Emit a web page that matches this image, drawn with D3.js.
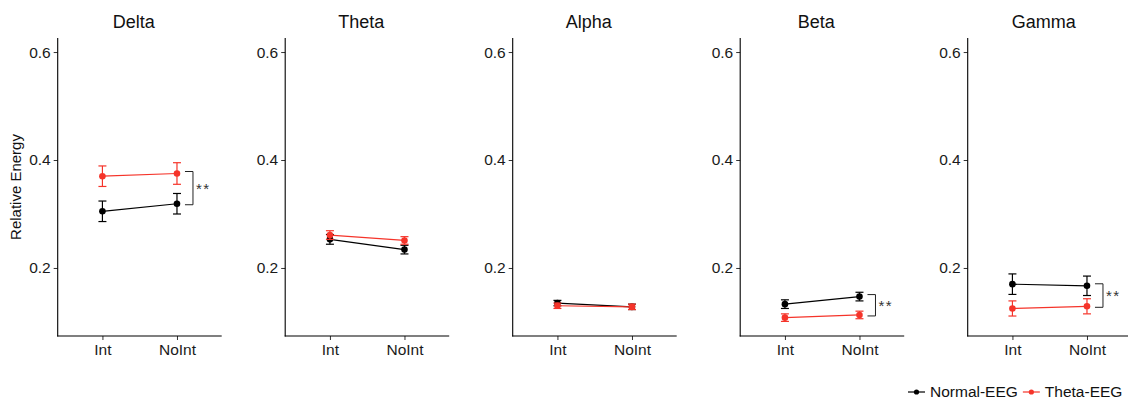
<!DOCTYPE html>
<html>
<head>
<meta charset="utf-8">
<script src="https://cdn.jsdelivr.net/npm/d3@7"></script>
<style>
  html, body { margin: 0; padding: 0; background: #fff; }
  svg { display: block; font-family: "Liberation Sans", Arial, Helvetica, sans-serif; }
</style>
</head>
<body>
<svg id="chart" width="1128" height="403"></svg>
<script>
// EEG frequency bands, one panel each
const bands = ["Delta", "Theta", "Alpha", "Beta", "Gamma"];
const conditions = ["Int", "NoInt"];
const groups = ["Normal-EEG", "Theta-EEG"];

// Mean relative energy per band, [Int, NoInt]
const normalMean = [[0.305, 0.319], [0.253, 0.234], [0.135, 0.128], [0.133, 0.147], [0.170, 0.167]];
const normalSE   = [[0.019, 0.019], [0.009, 0.008], [0.005, 0.005], [0.008, 0.008], [0.019, 0.018]];
const thetaMean  = [[0.370, 0.375], [0.261, 0.251], [0.130, 0.128], [0.108, 0.113], [0.125, 0.129]];
const thetaSE    = [[0.019, 0.020], [0.008, 0.007], [0.005, 0.005], [0.007, 0.007], [0.014, 0.014]];

// Between-group significance marker at NoInt
const significance = ["**", "", "", "**", "**"];

const yTicks = [0.2, 0.4, 0.6];
const yDomain = [0.074, 0.626];

const colors = { "Normal-EEG": "#000000", "Theta-EEG": "#F5342A" };
const series = [
  { group: "Normal-EEG", mean: normalMean, se: normalSE },
  { group: "Theta-EEG",  mean: thetaMean,  se: thetaSE }
];

const svg = d3.select("#chart");
const plotTop = 38, plotBottom = 336;
const panelLeft0 = 57.7, panelStep = 227.5, panelW = 164;

const y = d3.scaleLinear().domain(yDomain).range([plotBottom, plotTop]);

bands.forEach((band, i) => {
  const x0 = panelLeft0 + i * panelStep;
  const x = d3.scalePoint().domain(conditions).range([x0, x0 + panelW]).padding(0.6);
  const g = svg.append("g");

  // y axis
  const ya = g.append("g").attr("transform", `translate(${x0},0)`)
    .call(d3.axisLeft(y).tickValues(yTicks).tickFormat(d3.format(".1f")).tickSizeOuter(0).tickSize(4).tickPadding(3));
  ya.select(".domain").remove();
  g.append("line").attr("x1", x0).attr("x2", x0).attr("y1", plotTop).attr("y2", plotBottom + 0.5)
    .attr("stroke", "#000").attr("stroke-width", 1.1);

  // x axis
  const xa = g.append("g").attr("transform", `translate(0,${plotBottom})`)
    .call(d3.axisBottom(x).tickSizeOuter(0).tickSize(4).tickPadding(4));
  xa.select(".domain").remove();
  g.append("line").attr("x1", x0 - 0.5).attr("x2", x0 + panelW).attr("y1", plotBottom).attr("y2", plotBottom)
    .attr("stroke", "#000").attr("stroke-width", 1.1);

  [ya, xa].forEach(a => {
    a.selectAll(".tick line").attr("stroke", "#333").attr("stroke-width", 1);
    a.selectAll(".tick text").attr("fill", "#1a1a1a").style("font-size", "15.5px")
      .style("font-family", "'Liberation Sans', Arial, sans-serif");
  });

  // panel title
  g.append("text").attr("x", x0 + panelW / 2 - 6).attr("y", 28)
    .attr("text-anchor", "middle").attr("fill", "#111").style("font-size", "18px").text(band);

  // series: lines, error bars, points
  series.forEach(s => {
    const col = colors[s.group];
    const pts = conditions.map((c, j) => ({ c, m: s.mean[i][j], e: s.se[i][j] }));
    g.append("path").datum(pts)
      .attr("d", d3.line().x(d => x(d.c)).y(d => y(d.m)))
      .attr("fill", "none").attr("stroke", col).attr("stroke-width", 1.2);
    const eb = g.selectAll(null).data(pts).enter().append("g").attr("stroke", col).attr("stroke-width", 1.2);
    eb.append("line").attr("x1", d => x(d.c)).attr("x2", d => x(d.c))
      .attr("y1", d => y(d.m - d.e)).attr("y2", d => y(d.m + d.e));
    eb.append("line").attr("x1", d => x(d.c) - 4).attr("x2", d => x(d.c) + 4)
      .attr("y1", d => y(d.m + d.e)).attr("y2", d => y(d.m + d.e));
    eb.append("line").attr("x1", d => x(d.c) - 4).attr("x2", d => x(d.c) + 4)
      .attr("y1", d => y(d.m - d.e)).attr("y2", d => y(d.m - d.e));
    g.selectAll(null).data(pts).enter().append("circle")
      .attr("cx", d => x(d.c)).attr("cy", d => y(d.m)).attr("r", 3.3).attr("fill", col);
  });

  // significance bracket between the two groups at NoInt
  if (significance[i]) {
    const xc = x("NoInt");
    const ya1 = y(normalMean[i][1]), ya2 = y(thetaMean[i][1]);
    const y1 = Math.min(ya1, ya2) - 2, y2 = Math.max(ya1, ya2) + 1;
    g.append("path")
      .attr("d", `M${xc + 8},${y1}H${xc + 16}V${y2}H${xc + 8}`)
      .attr("fill", "none").attr("stroke", "#222").attr("stroke-width", 1);
    g.append("text").attr("x", xc + 19).attr("y", (y1 + y2) / 2 + 5.5)
      .attr("fill", "#333").style("font-size", "15px").style("letter-spacing", "1.5px")
      .text(significance[i]);
  }
});

// y axis title
svg.append("text")
  .attr("transform", `translate(21,${(plotTop + plotBottom) / 2}) rotate(-90)`)
  .attr("text-anchor", "middle").attr("fill", "#111").style("font-size", "15px")
  .text("Relative Energy");

// legend
const legend = svg.append("g");
let lx = 908;
const ly = 392;
groups.forEach(gname => {
  const col = colors[gname];
  legend.append("line").attr("x1", lx).attr("x2", lx + 17).attr("y1", ly).attr("y2", ly)
    .attr("stroke", col).attr("stroke-width", 1.2);
  legend.append("circle").attr("cx", lx + 8.5).attr("cy", ly).attr("r", 2.6).attr("fill", col);
  const t = legend.append("text").attr("x", lx + 22).attr("y", ly + 5.3)
    .attr("fill", "#111").style("font-size", "15.5px").text(gname);
  lx = lx + 22 + t.node().getComputedTextLength() + 5;
});
</script>
</body>
</html>
